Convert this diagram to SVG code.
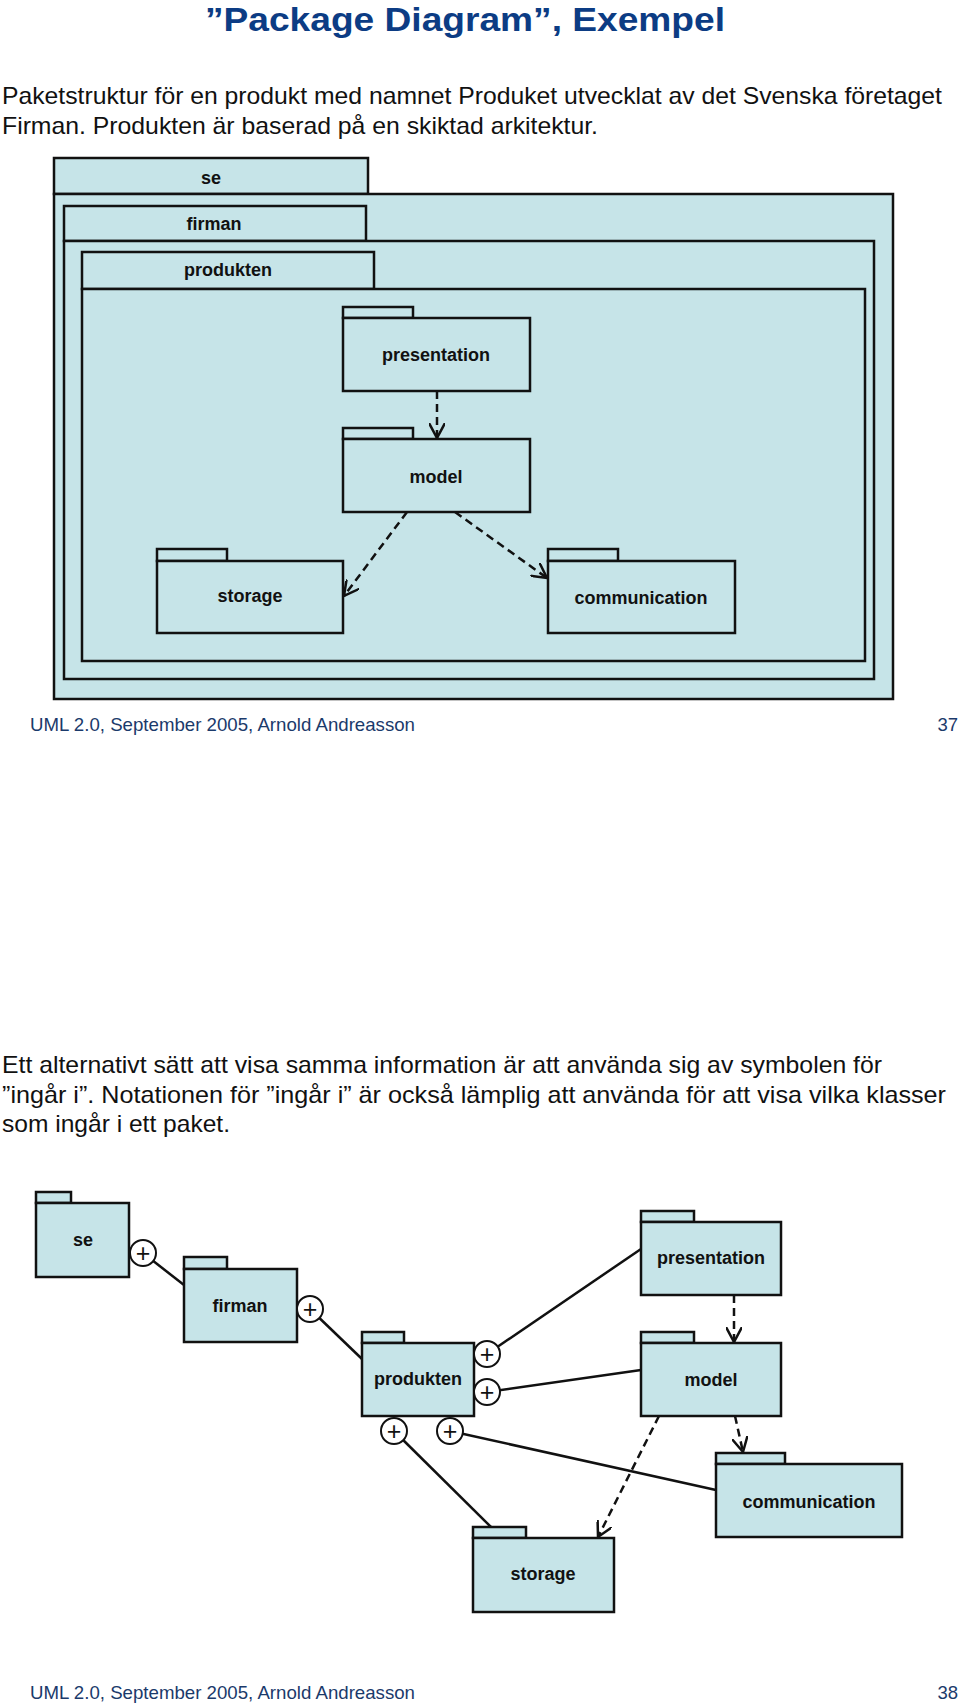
<svg xmlns="http://www.w3.org/2000/svg" width="960" height="1704" viewBox="0 0 960 1704">
<style>
  .pk { fill: #c6e4e8; stroke: #111; stroke-width: 2.5; }
  .lbl { font-family: "Liberation Sans", Arial, sans-serif; font-weight: bold; font-size: 18px; fill: #111; text-anchor: middle; }
  .body { font-family: "Liberation Sans", Arial, sans-serif; font-size: 24px; fill: #111; }
  .foot { font-family: "Liberation Sans", Arial, sans-serif; font-size: 18.5px; fill: #1b3a6b; }
  .dep { fill: none; stroke: #111; stroke-width: 2.5; stroke-dasharray: 8 5; marker-end: url(#open); }
  .own { fill: none; stroke: #111; stroke-width: 2.5; }
  .anc { fill: #fff; stroke: #111; stroke-width: 2; }
  .plus { font-family: "Liberation Sans", Arial, sans-serif; font-size: 25px; fill: #111; text-anchor: middle; }
</style>
<defs>
  <marker id="open" viewBox="0 0 16 16" refX="15" refY="8" markerWidth="16" markerHeight="16" markerUnits="userSpaceOnUse" orient="auto">
    <path d="M0,0 L15,8 L0,16" fill="none" stroke="#111" stroke-width="2.5"/>
  </marker>
</defs>
<rect width="960" height="1704" fill="#fff"/>

<text x="465" y="31" textLength="520" lengthAdjust="spacingAndGlyphs" style="font-family:'Liberation Sans',Arial,sans-serif;font-weight:bold;font-size:34px;fill:#0c3c84;text-anchor:middle">”Package Diagram”, Exempel</text>
<text class="body" x="2" y="104" textLength="940" lengthAdjust="spacingAndGlyphs">Paketstruktur för en produkt med namnet Produket utvecklat av det Svenska företaget</text>
<text class="body" x="2" y="134" textLength="596" lengthAdjust="spacingAndGlyphs">Firman. Produkten är baserad på en skiktad arkitektur.</text>

<!-- Top nested diagram -->
<g id="top-se">
  <rect class="pk" x="54" y="158" width="314" height="36"/>
  <rect class="pk" x="54" y="194" width="839" height="505"/>
  <text class="lbl" x="211" y="184">se</text>
</g>
<g id="top-firman">
  <rect class="pk" x="64" y="206" width="302" height="35"/>
  <rect class="pk" x="64" y="241" width="810" height="438"/>
  <text class="lbl" x="214" y="230">firman</text>
</g>
<g id="top-produkten">
  <rect class="pk" x="82" y="252" width="292" height="37"/>
  <rect class="pk" x="82" y="289" width="783" height="372"/>
  <text class="lbl" x="228" y="276">produkten</text>
</g>
<g id="top-presentation">
  <rect class="pk" x="343" y="307" width="70" height="11"/>
  <rect class="pk" x="343" y="318" width="187" height="73"/>
  <text class="lbl" x="436" y="361">presentation</text>
</g>
<g id="top-model">
  <rect class="pk" x="343" y="428" width="70" height="11"/>
  <rect class="pk" x="343" y="439" width="187" height="73"/>
  <text class="lbl" x="436" y="483">model</text>
</g>
<g id="top-storage">
  <rect class="pk" x="157" y="549" width="70" height="12"/>
  <rect class="pk" x="157" y="561" width="186" height="72"/>
  <text class="lbl" x="250" y="602">storage</text>
</g>
<g id="top-communication">
  <rect class="pk" x="548" y="549" width="70" height="12"/>
  <rect class="pk" x="548" y="561" width="187" height="72"/>
  <text class="lbl" x="641" y="604">communication</text>
</g>
<g id="top-connectors">
  <line class="dep" x1="437" y1="391" x2="437" y2="438"/>
  <line class="dep" x1="407" y1="512" x2="344" y2="596"/>
  <line class="dep" x1="455" y1="512" x2="547" y2="578"/>
</g>

<text class="foot" x="30" y="731" textLength="385" lengthAdjust="spacingAndGlyphs">UML 2.0, September 2005, Arnold Andreasson</text>
<text class="foot" x="958" y="731" text-anchor="end">37</text>

<text class="body" x="2" y="1073" textLength="880" lengthAdjust="spacingAndGlyphs">Ett alternativt sätt att visa samma information är att använda sig av symbolen för</text>
<text class="body" x="2" y="1103" textLength="944" lengthAdjust="spacingAndGlyphs">”ingår i”. Notationen för ”ingår i” är också lämplig att använda för att visa vilka klasser</text>
<text class="body" x="2" y="1132" textLength="228" lengthAdjust="spacingAndGlyphs">som ingår i ett paket.</text>

<!-- Bottom diagram -->
<g id="connectors">
  <line class="own" x1="143" y1="1253" x2="184" y2="1285"/>
  <line class="own" x1="310" y1="1309" x2="362" y2="1359"/>
  <line class="own" x1="487" y1="1354" x2="641" y2="1249"/>
  <line class="own" x1="487" y1="1392" x2="641" y2="1370"/>
  <line class="own" x1="394" y1="1431" x2="491" y2="1527"/>
  <line class="own" x1="450" y1="1431" x2="716" y2="1490"/>
  <line class="dep" x1="734" y1="1295" x2="734" y2="1342"/>
  <line class="dep" x1="735" y1="1416" x2="743" y2="1452"/>
  <line class="dep" x1="659" y1="1416" x2="598" y2="1537"/>
</g>
<g id="se">
  <rect class="pk" x="36" y="1192" width="35" height="11"/>
  <rect class="pk" x="36" y="1203" width="93" height="74"/>
  <text class="lbl" x="83" y="1246">se</text>
</g>
<g id="firman">
  <rect class="pk" x="184" y="1257" width="43" height="12"/>
  <rect class="pk" x="184" y="1269" width="113" height="73"/>
  <text class="lbl" x="240" y="1312">firman</text>
</g>
<g id="produkten">
  <rect class="pk" x="362" y="1332" width="42" height="11"/>
  <rect class="pk" x="362" y="1343" width="112" height="73"/>
  <text class="lbl" x="418" y="1385">produkten</text>
</g>
<g id="presentation">
  <rect class="pk" x="641" y="1211" width="53" height="11"/>
  <rect class="pk" x="641" y="1222" width="140" height="73"/>
  <text class="lbl" x="711" y="1264">presentation</text>
</g>
<g id="model">
  <rect class="pk" x="641" y="1332" width="53" height="11"/>
  <rect class="pk" x="641" y="1343" width="140" height="73"/>
  <text class="lbl" x="711" y="1386">model</text>
</g>
<g id="communication">
  <rect class="pk" x="716" y="1453" width="69" height="11"/>
  <rect class="pk" x="716" y="1464" width="186" height="73"/>
  <text class="lbl" x="809" y="1508">communication</text>
</g>
<g id="storage">
  <rect class="pk" x="473" y="1527" width="53" height="11"/>
  <rect class="pk" x="473" y="1538" width="141" height="74"/>
  <text class="lbl" x="543" y="1580">storage</text>
</g>
<g id="anchors">
  <circle class="anc" cx="143" cy="1253" r="13"/><text class="plus" x="143" y="1262">+</text>
  <circle class="anc" cx="310" cy="1309" r="13"/><text class="plus" x="310" y="1318">+</text>
  <circle class="anc" cx="487" cy="1354" r="13"/><text class="plus" x="487" y="1363">+</text>
  <circle class="anc" cx="487" cy="1392" r="13"/><text class="plus" x="487" y="1401">+</text>
  <circle class="anc" cx="394" cy="1431" r="13"/><text class="plus" x="394" y="1440">+</text>
  <circle class="anc" cx="450" cy="1431" r="13"/><text class="plus" x="450" y="1440">+</text>
</g>

<text class="foot" x="30" y="1699" textLength="385" lengthAdjust="spacingAndGlyphs">UML 2.0, September 2005, Arnold Andreasson</text>
<text class="foot" x="958" y="1699" text-anchor="end">38</text>
</svg>
